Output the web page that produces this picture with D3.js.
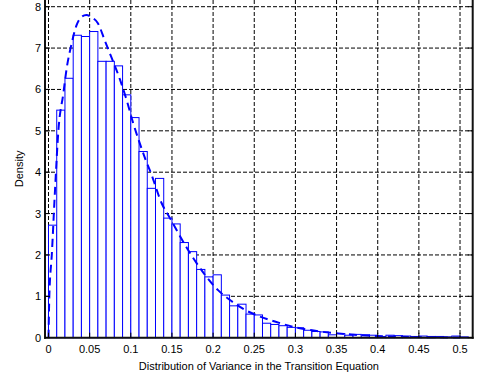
<!DOCTYPE html>
<html>
<head>
<meta charset="utf-8">
<script src="https://cdn.jsdelivr.net/npm/d3@7/dist/d3.min.js"></script>
<style>
  html, body { margin: 0; padding: 0; background: #fff; }
  svg { display: block; }
  text { font-family: "Liberation Sans", Arial, sans-serif; font-size: 11px; fill: #000; }
</style>
</head>
<body>
<svg id="chart" width="490" height="379"></svg>
<script>
// ---- Data ----
const binWidth = 0.01;
const binStarts = d3.range(0, 51).map(i => +(i * 0.01).toFixed(2));
const densities = [
  2.72, 5.50, 6.27, 7.31, 7.28, 7.40, 6.68, 6.68, 6.57, 5.87,
  5.32, 4.50, 3.61, 3.85, 2.89, 2.75, 2.30, 2.08, 1.65, 1.47,
  1.52, 1.03, 0.77, 0.81, 0.57, 0.55, 0.35, 0.32, 0.29, 0.25,
  0.24, 0.18, 0.15, 0.14, 0.07, 0.10, 0.06, 0.08, 0.07, 0.06,
  0.03, 0.06, 0.05, 0.04, 0.03, 0.04, 0.03, 0.03, 0.02, 0.04,
  0.02
];
const curveX = [0, 0.001, 0.004, 0.008, 0.012, 0.018, 0.022, 0.028, 0.034, 0.040,
  0.046, 0.052, 0.060, 0.069, 0.077, 0.087, 0.095, 0.103, 0.110, 0.118,
  0.125, 0.1375, 0.1476, 0.166, 0.176, 0.206, 0.2205, 0.239, 0.257, 0.275,
  0.300, 0.330, 0.360, 0.400, 0.450, 0.500];
const curveY = [0, 1.0, 2.0, 3.6, 5.0, 5.9, 6.5, 7.1, 7.55, 7.75,
  7.80, 7.75, 7.6, 7.15, 6.75, 6.23, 5.74, 5.18, 4.75, 4.30,
  3.95, 3.25, 2.89, 2.24, 1.92, 1.15, 0.91, 0.67, 0.51, 0.39,
  0.25, 0.15, 0.09, 0.04, 0.015, 0.005];
const xTicks = [0, 0.05, 0.1, 0.15, 0.2, 0.25, 0.3, 0.35, 0.4, 0.45, 0.5];
const xTickLabels = ["0", "0.05", "0.1", "0.15", "0.2", "0.25", "0.3", "0.35", "0.4", "0.45", "0.5"];
const yTicks = [0, 1, 2, 3, 4, 5, 6, 7, 8];
const yTickLabels = ["0", "1", "2", "3", "4", "5", "6", "7", "8"];
const xLabel = "Distribution of Variance in the Transition Equation";
const yLabel = "Density";

// ---- Layout ----
const L = 45, R = 472.7, T = 0, B = 337.7;
const svg = d3.select("#chart");
const x = d3.scaleLinear().domain([-0.00425, 0.5154]).range([L, R]);
const y = d3.scaleLinear().domain([0, 8.162]).range([B, T]);

// grid
const grid = svg.append("g");
grid.selectAll("line.v").data(xTicks).enter().append("line")
  .attr("x1", d => x(d)).attr("x2", d => x(d)).attr("y1", T).attr("y2", B)
  .attr("stroke", "#000").attr("stroke-width", 1).attr("stroke-dasharray", "4,2");
grid.selectAll("line.h").data(yTicks.slice(1)).enter().append("line")
  .attr("x1", L).attr("x2", R).attr("y1", d => y(d)).attr("y2", d => y(d))
  .attr("stroke", "#000").attr("stroke-width", 1).attr("stroke-dasharray", "4,2");

// bars
svg.append("g").selectAll("rect").data(binStarts).enter().append("rect")
  .attr("x", d => x(d))
  .attr("width", (d) => x(d + binWidth) - x(d))
  .attr("y", (d, i) => y(densities[i]))
  .attr("height", (d, i) => y(0) - y(densities[i]))
  .attr("fill", "#fff").attr("stroke", "#0000ff").attr("stroke-width", 1);

// fitted curve
const pts = curveX.map((v, i) => [v, curveY[i]]);
svg.append("path").datum(pts)
  .attr("d", d3.line().x(d => x(d[0])).y(d => y(d[1])).curve(d3.curveMonotoneX))
  .attr("fill", "none").attr("stroke", "#0000ff").attr("stroke-width", 2)
  .attr("stroke-dasharray", "8,5");

// axes frame
const frame = svg.append("g").attr("stroke", "#111").attr("stroke-width", 2);
frame.append("line").attr("x1", L).attr("x2", L).attr("y1", T).attr("y2", B + 1);
frame.append("line").attr("x1", R).attr("x2", R).attr("y1", T).attr("y2", B + 1);
frame.append("line").attr("x1", L - 1).attr("x2", R + 1).attr("y1", B).attr("y2", B);

// ticks (inside)
const ticks = svg.append("g").attr("stroke", "#000").attr("stroke-width", 1);
ticks.selectAll("line.yl").data(yTicks).enter().append("line")
  .attr("x1", L).attr("x2", L + 5).attr("y1", d => y(d)).attr("y2", d => y(d));
ticks.selectAll("line.yr").data(yTicks).enter().append("line")
  .attr("x1", R - 5).attr("x2", R).attr("y1", d => y(d)).attr("y2", d => y(d));
ticks.selectAll("line.xb").data(xTicks).enter().append("line")
  .attr("x1", d => x(d)).attr("x2", d => x(d)).attr("y1", B).attr("y2", B - 5);

// tick labels
svg.append("g").selectAll("text").data(xTicks).enter().append("text")
  .attr("x", d => x(d)).attr("y", B + 15.5).attr("text-anchor", "middle")
  .text((d, i) => xTickLabels[i]);
svg.append("g").selectAll("text").data(yTicks).enter().append("text")
  .attr("x", L - 4).attr("y", d => y(d) + 4).attr("text-anchor", "end")
  .text((d, i) => yTickLabels[i]);

// axis labels
svg.append("text").attr("x", (L + R) / 2).attr("y", 370).attr("text-anchor", "middle").text(xLabel);
svg.append("text").attr("transform", `translate(23,${(T + B) / 2}) rotate(-90)`)
  .attr("text-anchor", "middle").text(yLabel);
</script>
</body>
</html>
